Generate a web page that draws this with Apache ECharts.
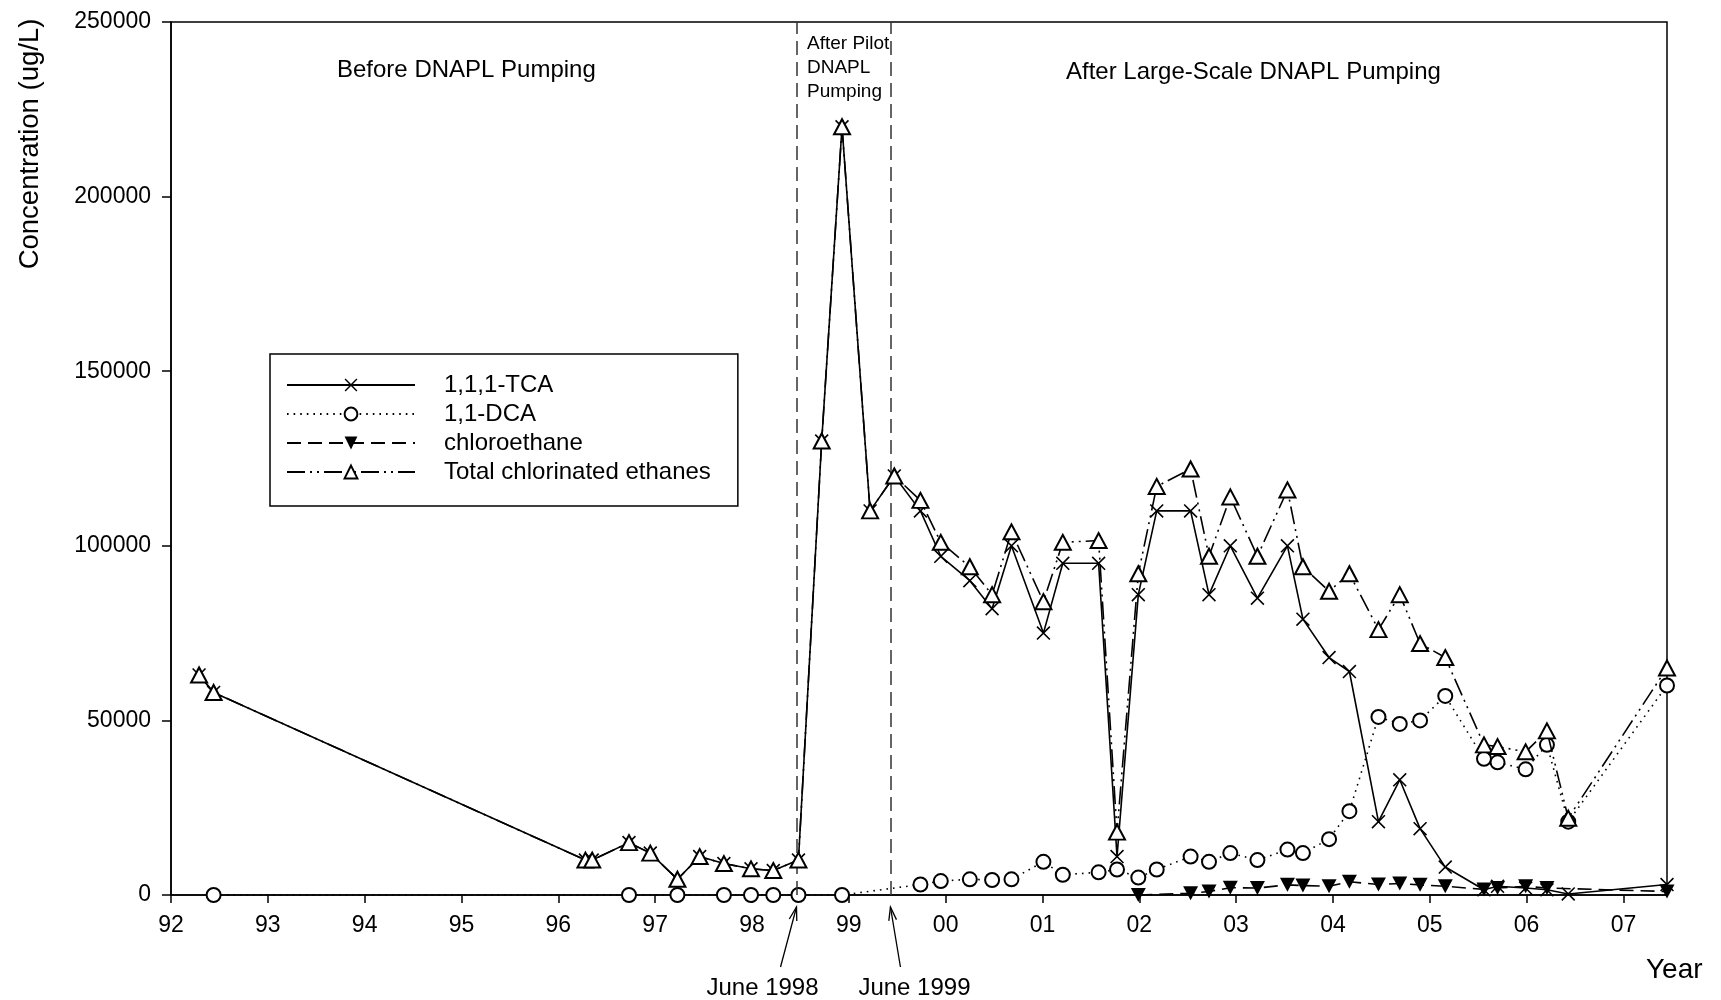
<!DOCTYPE html>
<html>
<head>
<meta charset="utf-8">
<script src="https://cdn.jsdelivr.net/npm/echarts@6/dist/echarts.min.js"></script>
<style>
html,body{margin:0;padding:0;background:#fff;}
#chart{width:1721px;height:1000px;}
</style>
</head>
<body>
<div id="chart"></div>
<script>
// Sampling dates (years since 1900, e.g. 101.5 = mid 2001)
const sampleYears = [92.29, 92.44, 96.28, 96.35, 96.73, 96.95, 97.23, 97.46, 97.71, 97.99, 98.22, 98.48, 98.72, 98.93, 99.22, 99.47, 99.74, 99.95, 100.25, 100.48, 100.68, 101.01, 101.21, 101.58, 101.77, 101.99, 102.18, 102.53, 102.72, 102.94, 103.22, 103.53, 103.69, 103.96, 104.17, 104.47, 104.69, 104.90, 105.16, 105.56, 105.70, 105.99, 106.21, 106.43, 107.45];

const tcaValues = [63000, 58000, 10000, 10000, 15000, 12000, 4500, 11000, 9000, 7500, 7000, 10000, 130000, 220000, 110000, 120000, 110000, 97000, 90000, 82000, 100000, 75000, 95000, 95000, 11000, 86000, 110000, 110000, 86000, 100000, 85000, 100000, 79000, 68000, 64000, 21000, 33000, 19000, 8000, 1500, 2500, 2000, 1500, 300, 3000];

const dcaValues = [null, 0, null, null, 0, null, 0, null, 0, 0, 0, 0, null, 0, null, null, 3000, 4000, 4500, 4300, 4500, 9500, 5800, 6500, 7300, 5000, 7300, 11000, 9500, 12000, 10000, 13000, 12000, 16000, 24000, 51000, 49000, 50000, 57000, 39000, 38000, 36000, 43000, 21000, 60000];

const chloroethaneValues = [null, null, null, null, null, null, null, null, null, null, null, null, null, null, null, null, null, null, null, null, null, null, null, null, null, 0, null, 500, 1000, 2100, 2000, 2900, 2700, 2500, 3800, 3000, 3300, 2900, 2500, 1600, 2000, 2500, 2000, null, 1000];

const totalValues = [63000, 58000, 10000, 10000, 15000, 12000, 4500, 11000, 9000, 7500, 7000, 10000, 130000, 220000, 110000, 120000, 113000, 101000, 94000, 86000, 104000, 84000, 101000, 101500, 18000, 92000, 117000, 122000, 97000, 114000, 97000, 116000, 94000, 87000, 92000, 76000, 86000, 72000, 68000, 43000, 42500, 41000, 47000, 22000, 65000];

const seriesNames = ['1,1,1-TCA', '1,1-DCA', 'chloroethane', 'Total chlorinated ethanes'];
const pumpingDates = [98.46, 99.43];
const pumpingLabels = ['June 1998', 'June 1999'];
const periodLabels = ['Before DNAPL Pumping', 'After Pilot\nDNAPL\nPumping', 'After Large-Scale DNAPL Pumping'];

const FONT = '"Liberation Sans", Arial, Helvetica, sans-serif';

function pairs(vals) {
  const out = [];
  for (let i = 0; i < sampleYears.length; i++) {
    if (vals[i] !== null && vals[i] !== undefined) out.push([sampleYears[i], vals[i]]);
  }
  return out;
}

const crossPath = 'path://M0,0.8L0.8,0L10,9.2L9.2,10ZM9.2,0L10,0.8L0.8,10L0,9.2Z';
const downTri = 'path://M0,0L10,0L5,9Z';

const chart = echarts.init(document.getElementById('chart'), null, {renderer: 'canvas'});

const option = {
  animation: false,
  backgroundColor: '#fff',
  textStyle: {fontFamily: FONT, color: '#000'},
  grid: {
    left: 171, right: 54, top: 22, bottom: 105,
    show: true, borderColor: '#000', borderWidth: 1.5, backgroundColor: 'transparent'
  },
  legend: {
    orient: 'vertical',
    left: 270, top: 354,
    padding: [19, 27, 22, 16],
    borderColor: '#000', borderWidth: 1.5,
    itemWidth: 128, itemHeight: 16, itemGap: 5,
    textStyle: {fontFamily: FONT, fontSize: 24, lineHeight: 22, color: '#000', padding: [0, 0, 0, 24]},
    data: seriesNames
  },
  xAxis: {
    type: 'value', min: 92, max: 107.45, interval: 1,
    axisLine: {show: true, lineStyle: {color: '#000', width: 1.5}},
    axisTick: {show: true, length: 8, lineStyle: {color: '#000', width: 1.5}},
    splitLine: {show: false},
    axisLabel: {
      fontFamily: FONT, fontSize: 23, color: '#000', margin: 19, showMaxLabel: false,
      formatter: function (v) {
        if (Math.abs(v - Math.round(v)) > 1e-6) return '';
        const y = Math.round(v) % 100;
        return (y < 10 ? '0' : '') + y;
      }
    }
  },
  yAxis: {
    type: 'value', min: 0, max: 250000, interval: 50000,
    axisLine: {show: true, lineStyle: {color: '#000', width: 1.5}},
    axisTick: {show: true, length: 9, lineStyle: {color: '#000', width: 1.5}},
    splitLine: {show: false},
    axisLabel: {fontFamily: FONT, fontSize: 23, color: '#000', margin: 20, formatter: function (v) { return String(v); }}
  },
  series: [
    {
      name: seriesNames[0], type: 'line', data: pairs(tcaValues),
      symbol: crossPath, symbolSize: 14, showSymbol: true, z: 3,
      lineStyle: {color: '#000', width: 1.6, type: 'solid'},
      itemStyle: {color: '#000', borderWidth: 0},
      markLine: {
        silent: true, symbol: ['none', 'none'],
        label: {show: false},
        lineStyle: {color: '#333', width: 1.5, type: [14, 7]},
        data: pumpingDates.map(function (d) { return {xAxis: d}; })
      }
    },
    {
      name: seriesNames[1], type: 'line', data: pairs(dcaValues),
      symbol: 'emptyCircle', symbolSize: 14, showSymbol: true, z: 4,
      lineStyle: {color: '#000', width: 1.6, type: [1.6, 5]},
      itemStyle: {color: '#000', borderColor: '#000', borderWidth: 1.5}
    },
    {
      name: seriesNames[2], type: 'line', data: pairs(chloroethaneValues),
      symbol: downTri, symbolSize: [15, 14], showSymbol: true, z: 5,
      lineStyle: {color: '#000', width: 1.6, type: [14, 7]},
      itemStyle: {color: '#000', borderWidth: 0}
    },
    {
      name: seriesNames[3], type: 'line', data: pairs(totalValues),
      symbol: 'emptyTriangle', symbolSize: [16, 15], showSymbol: true, z: 6,
      lineStyle: {color: '#000', width: 1.6, type: [18, 5, 2, 5, 2, 5]},
      itemStyle: {color: '#000', borderColor: '#000', borderWidth: 1.5}
    }
  ]
};

chart.setOption(option);

// Annotations
const g = [];
g.push({type: 'text', left: 337, top: 58, style: {text: periodLabels[0], font: '24px ' + FONT, fill: '#000'}});
g.push({type: 'text', left: 807, top: 32, style: {text: periodLabels[1], font: '19px ' + FONT, fill: '#000', lineHeight: 24}});
g.push({type: 'text', left: 1066, top: 60, style: {text: periodLabels[2], font: '24px ' + FONT, fill: '#000'}});
g.push({type: 'text', x: 30, y: 144, rotation: Math.PI / 2,
  style: {text: 'Concentration (ug/L)', font: '27.5px ' + FONT, fill: '#000', textAlign: 'center', textVerticalAlign: 'middle'}});
g.push({type: 'text', x: 1646, y: 970, style: {text: 'Year', font: '28px ' + FONT, fill: '#000', textAlign: 'left', textVerticalAlign: 'middle'}});

const tailOffsets = [-16, 10];
const labelOffsets = [-34, 24];
pumpingDates.forEach(function (d, i) {
  const p = chart.convertToPixel({xAxisIndex: 0, yAxisIndex: 0}, [d, 0]);
  const tip = [p[0], p[1] + 12];
  const tail = [p[0] + tailOffsets[i], p[1] + 72];
  const dx = tail[0] - tip[0], dy = tail[1] - tip[1];
  const len = Math.sqrt(dx * dx + dy * dy);
  const ux = dx / len, uy = dy / len;
  const ah = 14, ang = 0.28;
  const c = Math.cos(ang), s = Math.sin(ang);
  const h1 = [tip[0] + ah * (ux * c - uy * s), tip[1] + ah * (ux * s + uy * c)];
  const h2 = [tip[0] + ah * (ux * c + uy * s), tip[1] + ah * (-ux * s + uy * c)];
  g.push({type: 'line', shape: {x1: tail[0], y1: tail[1], x2: tip[0], y2: tip[1]}, style: {stroke: '#000', lineWidth: 1.3}});
  g.push({type: 'polyline', shape: {points: [h1, tip, h2]}, style: {stroke: '#000', lineWidth: 1.3, fill: null}});
  g.push({type: 'text', x: p[0] + labelOffsets[i], y: p[1] + 93,
    style: {text: pumpingLabels[i], font: '24px ' + FONT, fill: '#000', textAlign: 'center', textVerticalAlign: 'middle'}});
});

chart.setOption({graphic: g});
</script>
</body>
</html>
